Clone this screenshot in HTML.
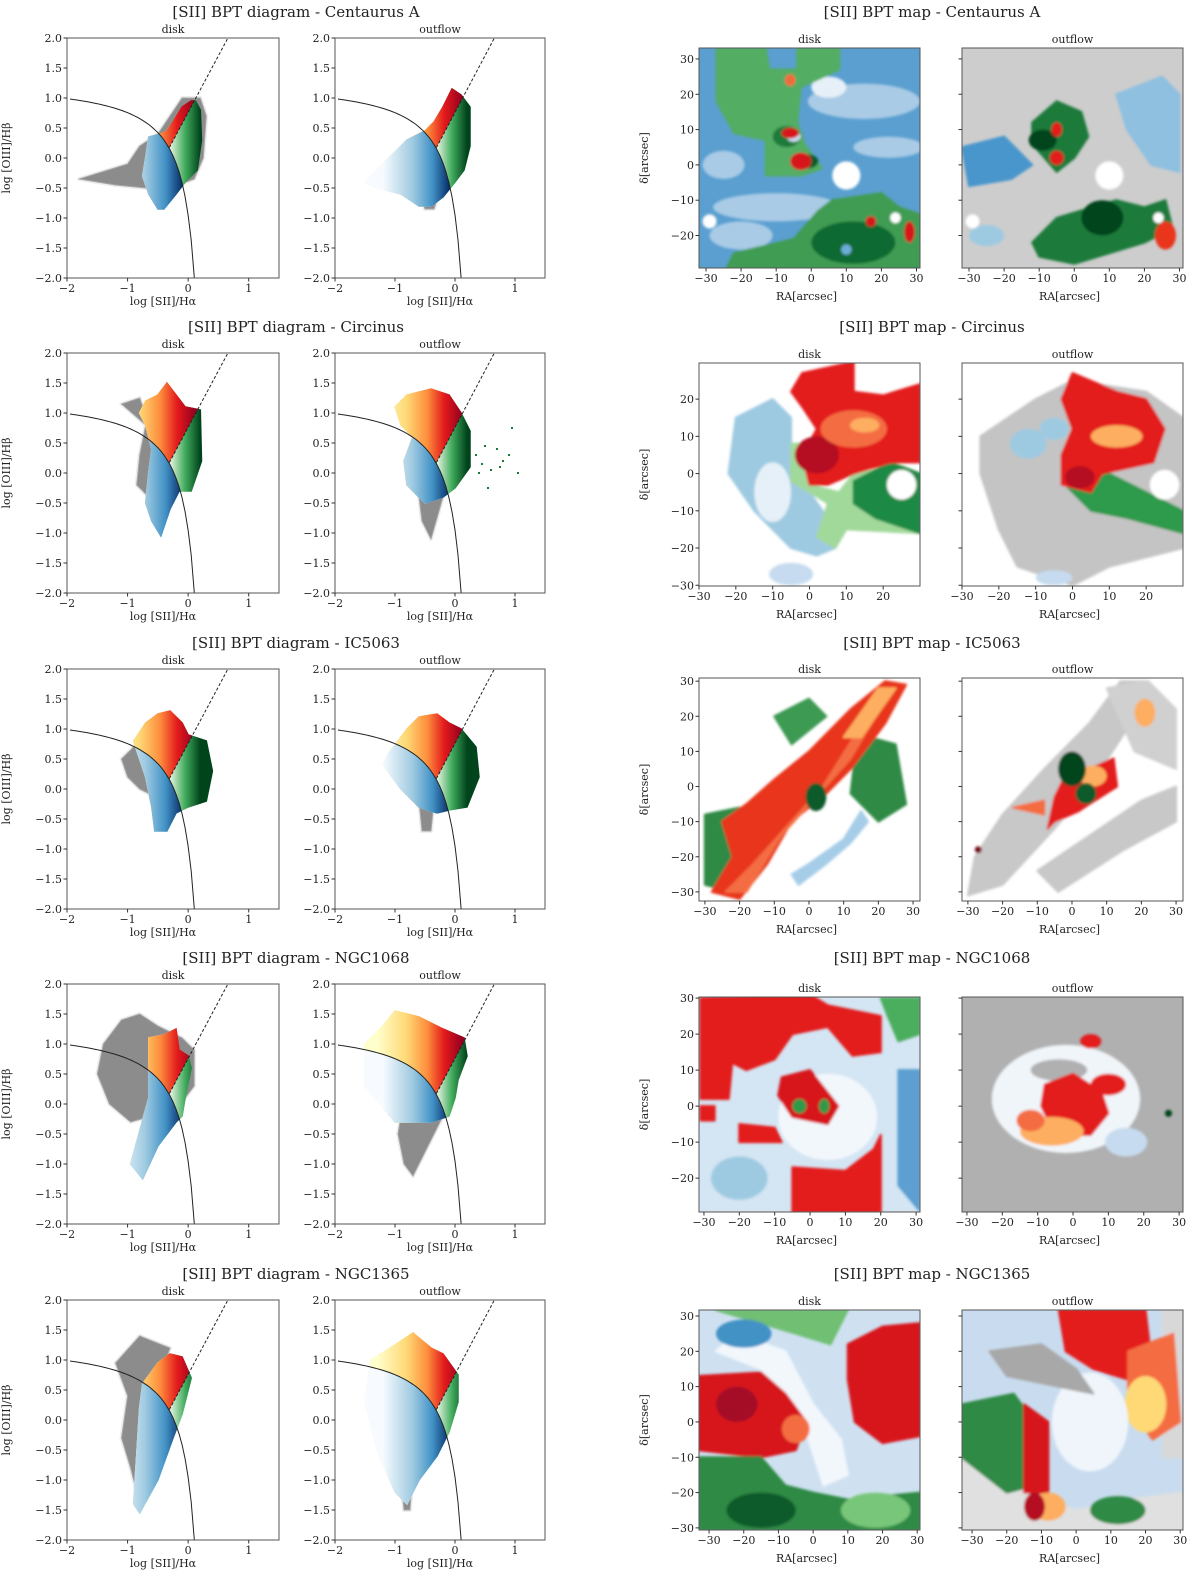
<!DOCTYPE html>
<html><head><meta charset="utf-8">
<style>
html,body{margin:0;padding:0;background:#fff;}
svg{display:block;font-family:"DejaVu Serif","Liberation Serif",serif;}
</style></head>
<body>
<svg id="fig" width="1200" height="1571" viewBox="0 0 1200 1571" xmlns="http://www.w3.org/2000/svg"></svg>
<script>
// ---------- data ----------
const galaxies = ["Centaurus A","Circinus","IC5063","NGC1068","NGC1365"];
const rowTops = [38,353,669,984,1300];
const xTicksBPT = [-2,-1,0,1];
const yTicksBPT = [-2.0,-1.5,-1.0,-0.5,0.0,0.5,1.0,1.5,2.0];

const cloudDisk = [
 [[-0.65,0.35],[-0.45,0.4],[-0.35,0.45],[-0.25,0.6],[-0.1,0.85],[0.05,0.95],[0.12,0.95],[0.2,0.8],[0.22,0.3],[0.15,-0.2],[-0.05,-0.4],[-0.2,-0.6],[-0.4,-0.85],[-0.5,-0.85],[-0.65,-0.6],[-0.75,-0.3],[-0.7,0.0]],
 [[-0.8,1.0],[-0.7,1.2],[-0.5,1.3],[-0.35,1.5],[-0.2,1.3],[-0.05,1.1],[0.2,1.05],[0.22,0.2],[0.05,-0.3],[-0.15,-0.3],[-0.3,-0.6],[-0.45,-1.05],[-0.6,-0.8],[-0.7,-0.5],[-0.65,0.0],[-0.6,0.4],[-0.7,0.8]],
 [[-0.9,0.8],[-0.7,1.1],[-0.5,1.25],[-0.3,1.3],[-0.1,1.1],[0.0,0.9],[0.3,0.8],[0.4,0.3],[0.3,-0.2],[0.0,-0.3],[-0.2,-0.4],[-0.35,-0.7],[-0.55,-0.7],[-0.6,-0.3],[-0.7,0.2],[-0.8,0.5]],
 [[-0.65,1.1],[-0.4,1.15],[-0.2,1.25],[-0.15,0.9],[0.0,0.8],[0.05,0.6],[-0.05,0.1],[-0.1,-0.2],[-0.2,-0.3],[-0.5,-0.7],[-0.75,-1.25],[-0.95,-1.0],[-0.65,0.1],[-0.65,0.6]],
 [[-0.75,0.6],[-0.5,0.95],[-0.3,1.1],[-0.1,1.05],[0.05,0.7],[-0.1,0.1],[-0.25,-0.3],[-0.5,-1.0],[-0.8,-1.55],[-0.9,-1.4],[-0.85,-0.6],[-0.8,0.2]]
];
const cloudOut = [
 [[-1.5,-0.4],[-1.1,0.0],[-0.8,0.3],[-0.5,0.45],[-0.35,0.6],[-0.2,0.85],[-0.05,1.15],[0.1,1.05],[0.25,0.85],[0.25,0.2],[0.15,-0.2],[0.0,-0.4],[-0.2,-0.65],[-0.4,-0.8],[-0.6,-0.8],[-0.9,-0.6],[-1.3,-0.5]],
 [[-1.0,1.1],[-0.8,1.3],[-0.4,1.4],[-0.1,1.3],[0.1,1.0],[0.25,0.7],[0.25,0.1],[0.0,-0.25],[-0.2,-0.4],[-0.5,-0.5],[-0.8,-0.2],[-0.85,0.2],[-0.7,0.6],[-0.9,0.8]],
 [[-1.1,0.6],[-0.8,1.0],[-0.6,1.2],[-0.3,1.25],[-0.1,1.1],[0.1,1.0],[0.35,0.7],[0.4,0.2],[0.2,-0.3],[-0.1,-0.35],[-0.3,-0.4],[-0.6,-0.3],[-0.9,0.0],[-1.2,0.4]],
 [[-1.5,1.0],[-1.2,1.3],[-1.0,1.55],[-0.6,1.45],[-0.2,1.25],[0.15,1.1],[0.2,0.8],[0.05,0.4],[0.0,0.1],[-0.1,-0.2],[-0.4,-0.3],[-1.0,-0.3],[-1.5,0.3]],
 [[-1.4,1.0],[-1.0,1.25],[-0.7,1.45],[-0.4,1.2],[-0.2,1.1],[0.05,0.75],[0.05,0.3],[-0.1,-0.2],[-0.3,-0.6],[-0.6,-1.0],[-0.8,-1.4],[-1.0,-1.2],[-1.3,-0.5],[-1.5,0.3]]
];
const grayDisk = [
 [[-1.8,-0.35],[-1.0,-0.1],[-0.8,0.2],[-0.5,0.4],[-0.3,0.7],[-0.1,1.0],[0.2,1.0],[0.3,0.7],[0.25,0.0],[0.1,-0.35],[-0.3,-0.5],[-0.7,-0.5],[-1.2,-0.45]],
 [[-1.1,1.15],[-0.8,1.25],[-0.6,0.7],[-0.6,0.0],[-0.55,-0.5],[-0.85,-0.2],[-0.8,0.3],[-0.7,0.8]],
 [[-1.1,0.5],[-0.8,0.8],[-0.6,0.5],[-0.6,-0.1],[-0.8,0.0],[-1.0,0.2]],
 [[-1.4,1.0],[-1.1,1.4],[-0.8,1.5],[-0.5,1.3],[-0.1,1.1],[0.1,0.9],[0.1,0.3],[-0.2,-0.1],[-0.6,-0.2],[-0.95,-0.3],[-1.3,0.0],[-1.5,0.5]],
 [[-1.2,0.95],[-0.8,1.4],[-0.55,1.3],[-0.3,1.2],[-0.4,0.9],[-0.7,0.6],[-0.75,-0.5],[-0.85,-1.2],[-0.95,-0.8],[-1.1,-0.3],[-1.0,0.4]]
];
const grayOut = [
 [[-0.55,-0.7],[-0.3,-0.7],[-0.35,-0.85],[-0.5,-0.85]],
 [[-0.6,-0.4],[-0.2,-0.4],[-0.4,-1.1],[-0.55,-0.8]],
 [[-0.6,-0.2],[-0.35,-0.2],[-0.4,-0.7],[-0.55,-0.7]],
 [[-0.9,-0.2],[-0.2,-0.2],[-0.35,-0.5],[-0.7,-1.2],[-0.85,-1.0],[-0.95,-0.5]],
 [[-0.9,-1.0],[-0.7,-0.8],[-0.75,-1.5],[-0.85,-1.5]]
];
const greenDotsX = [0.35,0.45,0.5,0.6,0.7,0.75,0.8,0.9,0.95,1.05,0.55,0.4];
const greenDotsY = [0.3,0.15,0.45,0.05,0.4,0.1,0.2,0.3,0.75,0.0,-0.25,0.0];

const mapRA = [[-32,31],[-30,30],[-31.7,32],[-31.4,31.1],[-32.9,30.8]];
const mapDec = [[33.1,-29.2],[29.7,-30.2],[30.9,-32.6],[30.3,-29.4],[31.7,-30.6]];
const mapBoxY = [[48,268],[363,586],[678,901],[997,1212],[1310,1530]];
const mapXT = [[-30,-20,-10,0,10,20,30],[-30,-20,-10,0,10,20],[-30,-20,-10,0,10,20,30],[-30,-20,-10,0,10,20,30],[-30,-20,-10,0,10,20,30]];
const mapYT = [[-20,-10,0,10,20,30],[-30,-20,-10,0,10,20],[-30,-20,-10,0,10,20,30],[-20,-10,0,10,20,30],[-30,-20,-10,0,10,20,30]];
const mapBgDisk = ["#5a9fd0","#ffffff","#ffffff","#d4e5f3","#cfe1f1"];
const mapBgOut = ["#cdcdcd","#ffffff","#ffffff","#b0b0b0","#c9dcef"];
const mapDisk = [
 [["e","#a9cbe6",15,18,16,5],["e","#a9cbe6",-10,-12,18,4],["e","#e6f0f8",5,22,5,3],["e","#a9cbe6",-20,-20,9,4],["e","#a9cbe6",22,5,10,3],["e","#a9cbe6",-25,0,6,4],
  ["p","#52ad63",[[-27,33],[-13,33],[-12,27],[-4,27],[-4,33],[8,33],[8,27],[-3,22],[-4,12],[-2,6],[3,-1],[-3,-3],[-13,-3],[-13,7],[-22,9],[-27,18]]],
  ["e","#1f7a3a",-7,8,4,3],["e","#0b5a2a",-1,1,3,2],["e","#c6dbef",-5,8,2,1.5],
  ["p","#3f9c52",[[-25,-31],[-22,-25],[-5,-21],[2,-13],[6,-10],[20,-8],[25,-12],[31,-14],[31,-30],[-25,-30]]],
  ["e","#0e6b30",12,-22,12,6],
  ["e","#f26b3a",-6,24,1.5,1.7],["e","#d7191c",-3,1,3,2.5],["e","#d7191c",-6,9,2.5,1.5],["e","#d7191c",17,-16,1.5,1.5],["e","#d7191c",28,-19,1.5,3],
  ["e","#ffffff",10,-3,4,4],["e","#ffffff",-29,-16,2,2],["e","#ffffff",24,-15,1.5,1.5],["e","#6baed6",10,-24,1.5,1.5]],
 [["p","#9ecae1",[[-20,15],[-10,20],[-5,15],[-5,0],[0,-5],[5,-12],[7,-20],[2,-22],[-5,-20],[-15,-10],[-22,0]]],
  ["e","#e6f0f8",-10,-5,5,8],["e","#c6dbef",-5,-27,6,3],
  ["p","#a1d99b",[[-5,8],[0,8],[0,-3],[8,-5],[12,0],[25,2],[30,0],[30,-16],[10,-15],[7,-20],[2,-17],[5,-8],[-5,-2]]],
  ["p","#1e8a45",[[12,-2],[22,3],[30,0],[30,-16],[18,-12],[12,-8]]],
  ["p","#e31a1c",[[-2,27],[12,30],[12,22],[20,21],[30,24],[30,3],[22,3],[12,0],[5,-3],[0,-3],[-2,5],[2,12],[-2,18],[-5,22]]],
  ["e","#b50f24",2,5,6,5],["e","#f46d43",12,12,9,5],["e","#fdae61",15,13,4,2],["e","#ffffff",25,-3,4,4]],
 [["p","#2f8a45",[[-30,-8],[-20,-6],[-15,-22],[-22,-30],[-30,-28]]],["p","#3c9a52",[[-10,20],[0,25],[5,20],[-5,12]]],["p","#2f8a45",[[14,15],[25,12],[28,-5],[20,-10],[12,-2]]],
  ["p","#e8341c",[[-28,-30],[-20,-32],[-12,-22],[-5,-10],[5,-2],[12,5],[22,18],[28,29],[22,30],[12,22],[0,10],[-10,2],[-18,-5],[-25,-10],[-22,-20]]],
  ["p","#f46d43",[[-24,-30],[-16,-22],[4,0],[18,22],[24,28],[12,8],[-8,-14],[-18,-30]]],["p","#fdae61",[[10,14],[20,28],[25,28],[15,14]]],
  ["e","#0b5a2a",2,-3,3,4],["p","#a6cde8",[[-5,-25],[0,-22],[10,-15],[15,-7],[17,-10],[12,-16],[5,-22],[-3,-28]]]],
 [["e","#f2f7fc",5,-3,14,12],["p","#5b9fd0",[[25,10],[31,10],[31,-29],[25,-22]]],["e","#9ecae1",-20,-20,8,6],
  ["p","#e31a1c",[[-31,30],[0,31],[5,28],[20,25],[20,15],[12,14],[5,22],[-5,20],[-10,13],[-18,10],[-22,12],[-23,2],[-31,2]]],
  ["p","#d7191c",[[-8,8],[0,10],[8,0],[5,-5],[-5,-3],[-9,3]]],
  ["p","#e31a1c",[[-5,-17],[10,-18],[18,-12],[20,-8],[20,-29.4],[-5,-29.4]]],
  ["p","#e31a1c",[[-20,-5],[-10,-6],[-8,-10],[-20,-10]]],["p","#e31a1c",[[-31,0],[-27,0],[-27,-4],[-31,-4]]],
  ["p","#4bae5f",[[20,30],[31,30],[31,20],[25,18],[22,25]]],["e","#2f9a4a",-3,0,2,2],["e","#2f9a4a",4,0,1.5,2]],
 [["p","#f2f7fc",[[-22,25],[-8,20],[0,5],[8,-5],[10,-15],[3,-18],[-3,0],[-15,15],[-28,20]]],
  ["p","#d7191c",[[-33,13],[-15,14],[-8,8],[-2,0],[-5,-8],[-15,-10],[-33,-8]]],["e","#a50f26",-22,5,6,5],["e","#f46d43",-5,-2,4,4],
  ["p","#2f8a45",[[-33,-10],[-15,-10],[-8,-18],[0,-20],[10,-22],[30.8,-20],[30.8,-30.6],[-33,-30.6]]],["e","#0b5a2a",-15,-25,10,5],["e","#78c679",18,-25,10,5],
  ["p","#d7191c",[[10,22],[20,27],[30.8,28],[30.8,-4],[20,-6],[12,0],[10,12]]],
  ["p","#6fbf73",[[-28,31.7],[10,31.7],[5,22],[-5,25]]],["e","#4292c6",-20,25,8,4]]
];
const mapOut = [
 [["p","#4a96cc",[[-32,5],[-20,8],[-12,0],[-18,-4],[-30,-6]]],["p","#8fc0e0",[[12,20],[25,25],[30,20],[30,-2],[22,0],[15,10]]],
  ["p","#1e7a3a",[[-12,12],[-5,18],[2,15],[4,8],[0,2],[-5,-2],[-12,6]]],["e","#00441b",-9,7,4,3],["e","#e31a1c",-5,2,2,2],["e","#e31a1c",-5,10,1.5,2],
  ["p","#1e7a3a",[[-12,-22],[-5,-15],[5,-12],[12,-10],[20,-12],[26,-10],[28,-18],[20,-22],[10,-25],[0,-28],[-10,-26]]],["e","#00441b",8,-15,6,5],
  ["e","#e8341c",26,-20,3,4],["e","#9ecae1",-25,-20,5,3],["e","#ffffff",10,-3,4,4],["e","#ffffff",-29,-16,2,2],["e","#ffffff",24,-15,1.5,1.5]],
 [["p","#c4c4c4",[[-25,10],[-10,20],[0,25],[20,22],[30,15],[30,-20],[10,-25],[0,-30],[-15,-25],[-20,-15],[-25,0]]],
  ["e","#9ecae1",-12,8,5,4],["e","#9ecae1",-5,12,4,3],["e","#c6dbef",-5,-28,5,2],
  ["p","#2e9a4c",[[-3,5],[10,0],[20,-5],[30,-10],[30,-16],[15,-12],[5,-10],[-3,-2]]],
  ["p","#e31a1c",[[0,27],[12,22],[20,20],[25,12],[22,3],[8,0],[5,-5],[-3,-3],[-3,5],[0,12],[-3,20]]],
  ["e","#fdae61",12,10,7,3],["e","#b50f24",2,-1,4,3],["e","#ffffff",25,-3,4,4]],
 [["p","#c8c8c8",[[-30,-31],[-20,-28],[-5,-12],[5,0],[15,15],[22,30],[14,30],[5,18],[-8,5],[-20,-8],[-28,-20]]],
  ["p","#c8c8c8",[[-10,-24],[5,-14],[20,-4],[30,0],[30,-10],[15,-18],[-4,-30]]],["p","#d0d0d0",[[10,28],[22,30],[30,22],[30,5],[18,10]]],
  ["p","#e31a1c",[[-7,-12],[-5,-3],[-2,3],[5,5],[12,8],[13,0],[5,-5],[2,-7],[-5,-10]]],["e","#fdae61",6,3,4,3],
  ["e","#00441b",0,5,4,5],["e","#0b5a2a",4,-2,3,3],["p","#f46d43",[[-17,-6],[-8,-4],[-8,-8]]],["e","#fdae61",21,21,3,4],["e","#7a0c1a",-27,-18,1,1]],
 [["e","#f0f5fa",-2,2,21,15],["e","#b0b0b0",-4,10,8,3],["e","#c6dbef",15,-10,6,4],
  ["p","#e31a1c",[[-8,6],[0,9],[8,4],[10,-2],[5,-8],[-5,-8],[-9,0]]],["e","#fdae61",-6,-7,9,4],["e","#f46d43",-12,-4,4,3],
  ["e","#e31a1c",10,6,5,3],["e","#e31a1c",5,18,3,2],["e","#00441b",27,-2,1,1]],
 [["p","#e0e0e0",[[-33,-10],[-20,-12],[-15,-20],[0,-25],[15,-22],[30.8,-20],[30.8,-30.6],[-33,-30.6]]],["p","#d8d8d8",[[25,31.7],[30.8,31.7],[30.8,-10],[25,-10]]],
  ["p","#e31a1c",[[-5,31.7],[20,31.7],[22,15],[15,12],[5,15],[-3,20]]],["p","#f46d43",[[15,20],[28,25],[30,0],[22,-5],[15,5]]],["e","#fed976",20,5,6,8],
  ["p","#2f8a45",[[-33,5],[-18,8],[-12,0],[-12,-18],[-20,-20],[-33,-10]]],["p","#d7191c",[[-15,5],[-8,0],[-8,-20],[-15,-20]]],
  ["e","#eff5fb",4,0,11,14],["p","#a8a8a8",[[-25,20],[-10,22],[0,15],[5,8],[-5,10],[-20,13]]],["e","#fdae61",-8,-24,5,4],["e","#b50f24",-12,-24,3,4],["e","#2f8a45",12,-25,8,4]]
];

// ---------- helpers ----------
const NS = "http://www.w3.org/2000/svg";
const svg = document.getElementById("fig");
let uid = 0;
function mk(tag, attrs, parent){
  const el = document.createElementNS(NS, tag);
  for (const k in attrs) el.setAttribute(k, attrs[k]);
  (parent||svg).appendChild(el);
  return el;
}
function txt(s, x, y, size, anchor, parent, name, rot){
  const t = mk("text", {x:x, y:y, "font-size":size, "text-anchor":anchor||"middle", fill:"#222"}, parent);
  if (rot) t.setAttribute("transform", "rotate(-90 "+x+" "+y+")");
  t.textContent = s;
  
  
  return t;
}
const defs = mk("defs", {});
const blur = mk("filter", {id:"soft", x:"-5%", y:"-5%", width:"110%", height:"110%"}, defs);
mk("feGaussianBlur", {stdDeviation:"1.2"}, blur);
function fmt(v, d){ return (v<0?"\u2212":"") + Math.abs(v).toFixed(d); }
function kew(x){ return 0.72/(x-0.32)+1.30; }

function linGrad(x1, x2, stops){
  const id = "g"+(uid++);
  const g = mk("linearGradient", {id:id, gradientUnits:"userSpaceOnUse", x1:x1, y1:0, x2:x2, y2:0}, defs);
  stops.forEach(s => mk("stop", {offset:s[0], "stop-color":s[1]}, g));
  return id;
}

function bpt(row, col, cloud, gray, dots){
  const px0 = col===0 ? 67 : 335, w = col===0 ? 212 : 210;
  const py0 = rowTops[row], h = 240;
  const sx = x => px0 + (x+2)/3.5*w;
  const sy = y => py0 + (2-y)/4*h;
  const g = mk("g", {});
  
  
  const cid = "c"+(uid++);
  const cp = mk("clipPath", {id:cid}, defs);
  mk("rect", {x:px0, y:py0, width:w, height:h}, cp);
  const inner = mk("g", {"clip-path":"url(#"+cid+")"}, g);
  const pts = a => a.map(p => sx(p[0]).toFixed(1)+","+sy(p[1]).toFixed(1)).join(" ");
  const halo = mk("polygon", {points:pts(gray), fill:"#d9d9d9", stroke:"#dcdcdc", "stroke-width":4, "stroke-linejoin":"round", opacity:0.5}, inner);
  
  
  const gp = mk("polygon", {points:pts(gray), fill:"#8c8c8c", stroke:"#a8a8a8", "stroke-width":1, "stroke-linejoin":"round"}, inner);
  
  
  const curvePts = [];
  for (let x=-2.6; x<=0.102; x+=0.05) curvePts.push([x, kew(x)]);
  curvePts.push([0.102, -2.0]);
  const sfPoly = [[-2.6,-2.6]].concat(curvePts).concat([[0.102,-2.6]]);
  const xd = y => (y-0.76)/1.89;
  const syPoly = [[-2.6,3],[xd(3),3],[xd(-3),-3],[-2.6,-3]];
  const gL = linGrad(sx(-0.3), sx(0.2), [[0,"#e5f5e0"],[0.5,"#41ab5d"],[1,"#00441b"]]);
  const gS = linGrad(sx(-1.3), sx(0.1), [[0,"#ffffcc"],[0.35,"#fed976"],[0.6,"#fd8d3c"],[0.8,"#e31a1c"],[1,"#99001f"]]);
  const gB = linGrad(sx(-1.2), sx(-0.1), [[0,"#f7fbff"],[0.45,"#9ecae1"],[0.75,"#4292c6"],[1,"#08306b"]]);
  const lin = mk("polygon", {points:pts(cloud), fill:"url(#"+gL+")", stroke:"url(#"+gL+")", "stroke-width":1.5}, inner);
  
  
  const c1 = "c"+(uid++); const cp1 = mk("clipPath", {id:c1}, defs); mk("polygon", {points:pts(syPoly)}, cp1);
  const sey = mk("polygon", {points:pts(cloud), fill:"url(#"+gS+")", stroke:"url(#"+gS+")", "stroke-width":1.5, "clip-path":"url(#"+c1+")"}, inner);
  
  
  const c2 = "c"+(uid++); const cp2 = mk("clipPath", {id:c2}, defs); mk("polygon", {points:pts(sfPoly)}, cp2);
  const sf = mk("polygon", {points:pts(cloud), fill:"url(#"+gB+")", stroke:"url(#"+gB+")", "stroke-width":1.5, "clip-path":"url(#"+c2+")"}, inner);
  
  
  if (dots){
    for (let i=0;i<greenDotsX.length;i++){
      const d = mk("rect", {x:sx(greenDotsX[i])-1, y:sy(greenDotsY[i])-1, width:2, height:2, fill:"#1b7837"}, inner);
      
      
    }
  }
  const kp = mk("polyline", {points:pts(curvePts.filter(p=>p[0]>=-2)), fill:"none", stroke:"#222", "stroke-width":1}, inner);
  
  
  const x0 = -0.31;
  const dl = mk("line", {x1:sx(x0), y1:sy(1.89*x0+0.76), x2:sx(xd(2)), y2:sy(2), stroke:"#222", "stroke-width":1, "stroke-dasharray":"3,2"}, inner);
  
  
  const fr = mk("rect", {x:px0, y:py0, width:w, height:h, fill:"none", stroke:"#555", "stroke-width":1}, g);
  
  
  xTicksBPT.forEach(v => {
    mk("line", {x1:sx(v), y1:py0+h, x2:sx(v), y2:py0+h+3.5, stroke:"#333"}, g);
    txt(fmt(v,0), sx(v), py0+h+14, 11, "middle", g, "x-tick-label");
  });
  yTicksBPT.forEach(v => {
    mk("line", {x1:px0-3.5, y1:sy(v), x2:px0, y2:sy(v), stroke:"#333"}, g);
    txt(fmt(v,1), px0-5, sy(v)+4, 11, "end", g, "y-tick-label");
  });
  txt("log [SII]/H\u03b1", px0+w/2-(col===0?10:0), py0+h+27, 11, "middle", g, "x-axis-title");
  txt(col===0?"disk":"outflow", px0+w/2, py0-5, 11, "middle", g, "panel-subtitle");
  if (col===0) txt("log [OIII]/H\u03b2", 10, py0+h/2, 11, "middle", g, "y-axis-title", true);
}

function bptMap(row, col, bg, shapes){
  const px0 = col===0 ? 699 : 962, w = 221;
  const py0 = mapBoxY[row][0], h = mapBoxY[row][1]-py0;
  const ra = mapRA[row], de = mapDec[row];
  const sx = v => px0 + (v-ra[0])/(ra[1]-ra[0])*w;
  const sy = v => py0 + (de[0]-v)/(de[0]-de[1])*h;
  const g = mk("g", {});
  
  
  const cid = "c"+(uid++);
  const cp = mk("clipPath", {id:cid}, defs);
  mk("rect", {x:px0, y:py0, width:w, height:h}, cp);
  const inner = mk("g", {"clip-path":"url(#"+cid+")"}, g);
  const bgR = mk("rect", {x:px0, y:py0, width:w, height:h, fill:bg}, inner);
  
  
  const soft = mk("g", {filter:"url(#soft)"}, inner);
  shapes.forEach(s => {
    let el;
    if (s[0]==="p"){
      el = mk("polygon", {points:s[2].map(p=>sx(p[0]).toFixed(1)+","+sy(p[1]).toFixed(1)).join(" "), fill:s[1], stroke:s[1], "stroke-width":2, "stroke-linejoin":"round"}, soft);
    } else {
      el = mk("ellipse", {cx:sx(s[2]), cy:sy(s[3]), rx:s[4]*w/(ra[1]-ra[0]), ry:s[5]*h/(de[0]-de[1]), fill:s[1]}, soft);
    }
    
    
  });
  const fr = mk("rect", {x:px0, y:py0, width:w, height:h, fill:"none", stroke:"#555", "stroke-width":1}, g);
  
  
  mapXT[row].forEach(v => {
    mk("line", {x1:sx(v), y1:py0+h, x2:sx(v), y2:py0+h+3.5, stroke:"#333"}, g);
    txt(fmt(v,0), sx(v), py0+h+14, 11, "middle", g, "ra-tick-label");
  });
  mapYT[row].forEach(v => {
    mk("line", {x1:px0-3.5, y1:sy(v), x2:px0, y2:sy(v), stroke:"#333"}, g);
    if (col===0) txt(fmt(v,0), px0-5, sy(v)+4, 11, "end", g, "dec-tick-label");
  });
  txt("RA[arcsec]", px0+w/2-3, py0+h+32, 11, "middle", g, "ra-axis-title");
  txt(col===0?"disk":"outflow", px0+w/2, py0-5, 11, "middle", g, "map-subtitle");
  if (col===0) txt("\u03b4[arcsec]", 648, py0+h/2, 11, "middle", g, "dec-axis-title", true);
}

for (let r=0; r<5; r++){
  const top = rowTops[r];
  txt("[SII] BPT diagram - "+galaxies[r], 296, top-21, 15, "middle", svg, "bpt-title");
  txt("[SII] BPT map - "+galaxies[r], 932, top-21, 15, "middle", svg, "map-title");
  bpt(r, 0, cloudDisk[r], grayDisk[r], false);
  bpt(r, 1, cloudOut[r], grayOut[r], r===1);
  bptMap(r, 0, mapBgDisk[r], mapDisk[r]);
  bptMap(r, 1, mapBgOut[r], mapOut[r]);
}
</script>
</body></html>
